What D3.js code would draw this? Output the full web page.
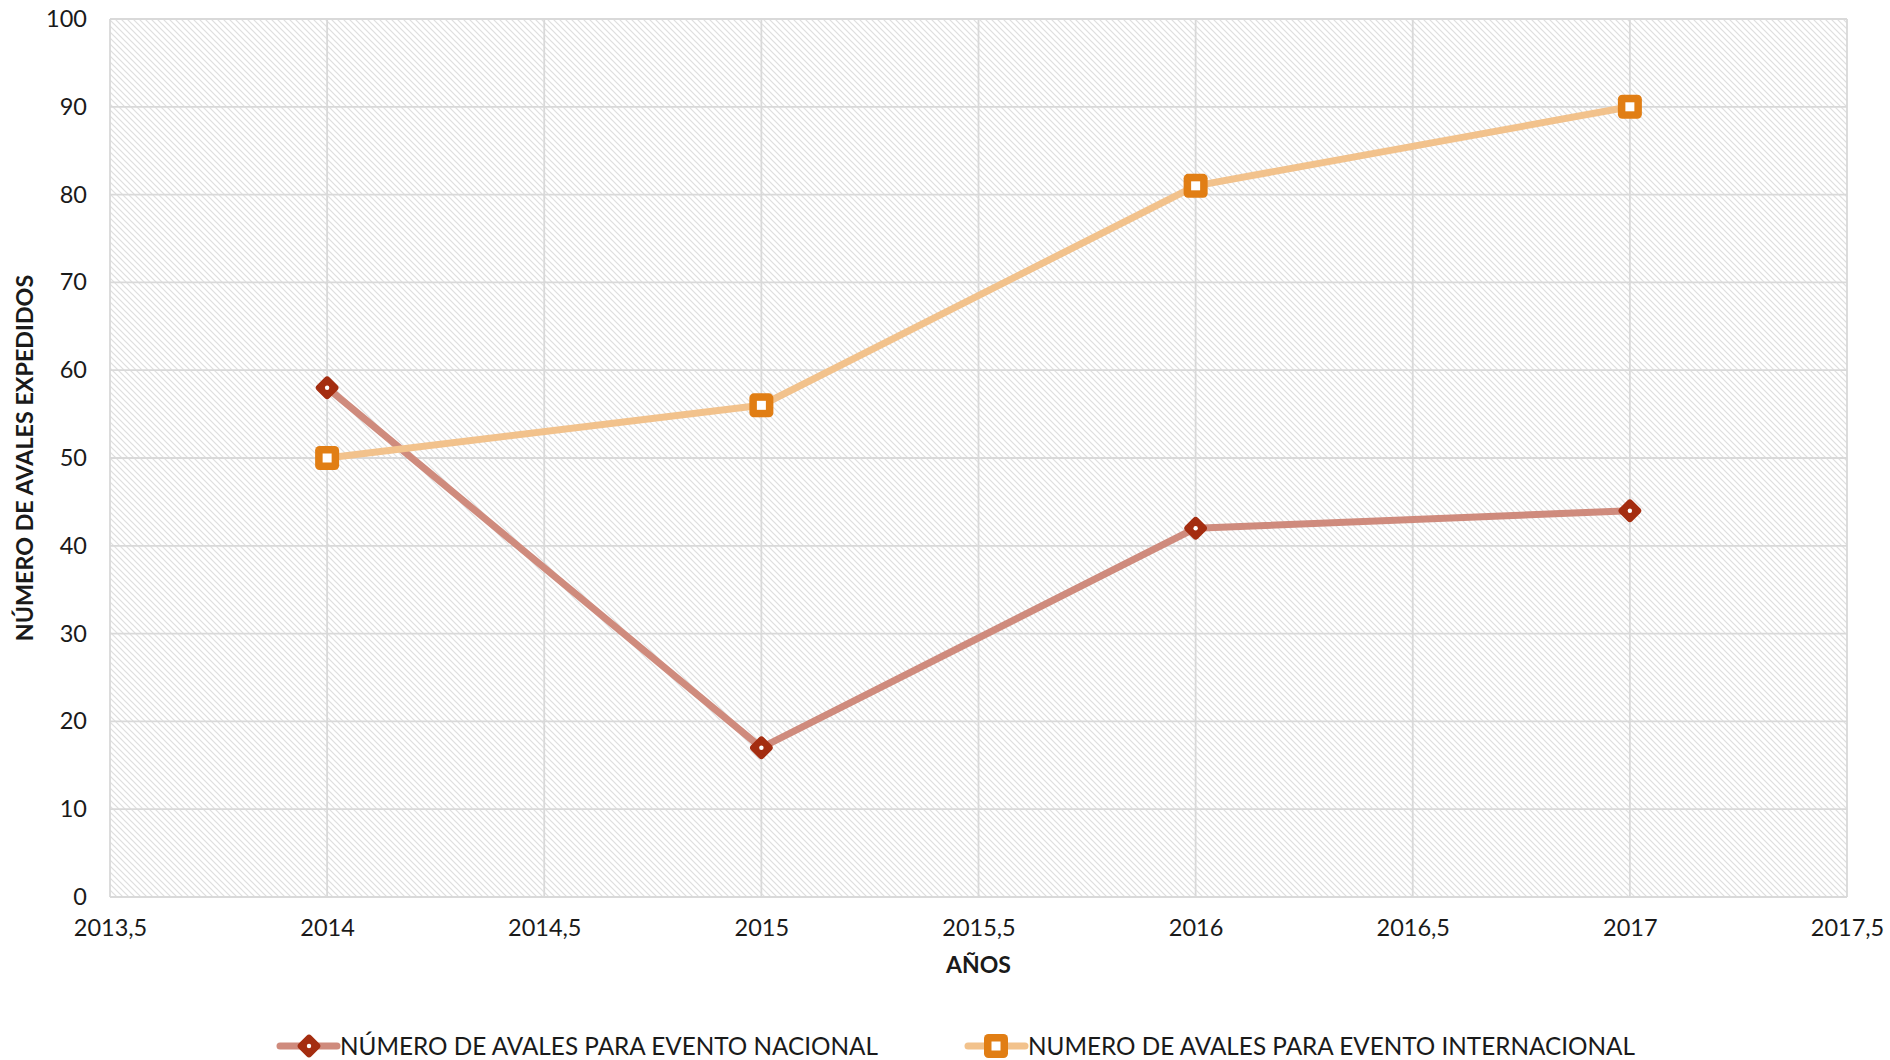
<!DOCTYPE html>
<html>
<head>
<meta charset="utf-8">
<script src="https://cdn.jsdelivr.net/npm/d3@7"></script>
<style>
  body { margin: 0; background: #fff; }
  text { font-family: "Century Gothic", "URW Gothic", "URW Gothic L", Lato, sans-serif; fill: #1a1a1a; }
</style>
</head>
<body>
<div id="chart"></div>
<script>
// data
var years = [2014, 2015, 2016, 2017];
var nacional = [58, 17, 42, 44];
var internacional = [50, 56, 81, 90];
var xTicks = [2013.5, 2014, 2014.5, 2015, 2015.5, 2016, 2016.5, 2017, 2017.5];
var yTicks = [0, 10, 20, 30, 40, 50, 60, 70, 80, 90, 100];
var seriesNames = ["NÚMERO DE AVALES PARA EVENTO NACIONAL", "NUMERO DE AVALES PARA EVENTO INTERNACIONAL"];

var W = 1890, H = 1060;
var m = { top: 19, right: 43, bottom: 163, left: 110 };

var svg = d3.select("#chart").append("svg")
  .attr("width", W).attr("height", H);

var defs = svg.append("defs");
var pat = defs.append("pattern")
  .attr("id", "hatch")
  .attr("patternUnits", "userSpaceOnUse")
  .attr("width", 6).attr("height", 6);
pat.append("rect").attr("width", 6).attr("height", 6).attr("fill", "#fff");
pat.append("path")
  .attr("d", "M-1,-1 L7,7 M-1,5 L1,7 M5,-1 L7,1")
  .attr("stroke", "#dedede")
  .attr("stroke-width", 1.2);

var x = d3.scaleLinear().domain([2013.5, 2017.5]).range([m.left, W - m.right]);
var y = d3.scaleLinear().domain([0, 100]).range([H - m.bottom, m.top]);

var loc = d3.formatLocale({ decimal: ",", thousands: ".", grouping: [3], currency: ["", ""] });
var fmt = function(d) { return Number.isInteger(d) ? String(d) : loc.format(".1f")(d); };

svg.append("rect")
  .attr("x", x(2013.5)).attr("y", y(100))
  .attr("width", x(2017.5) - x(2013.5))
  .attr("height", y(0) - y(100))
  .attr("fill", "url(#hatch)");

// grid
svg.append("g")
  .selectAll("line.h").data(yTicks).enter().append("line")
  .attr("x1", x(2013.5)).attr("x2", x(2017.5))
  .attr("y1", function(d) { return y(d); }).attr("y2", function(d) { return y(d); })
  .attr("stroke", "#d9d9d9").attr("stroke-width", 1.8);
svg.append("g")
  .selectAll("line.v").data(xTicks).enter().append("line")
  .attr("y1", y(0)).attr("y2", y(100))
  .attr("x1", function(d) { return x(d); }).attr("x2", function(d) { return x(d); })
  .attr("stroke", "#d9d9d9").attr("stroke-width", 1.8);

// axes
var yAxis = d3.axisLeft(y).tickValues(yTicks).tickSize(0).tickPadding(23).tickFormat(fmt);
var gy = svg.append("g").attr("transform", "translate(" + m.left + ",0)").call(yAxis);
gy.select(".domain").remove();
gy.selectAll("text").style("font-size", "23.5px").attr("fill", "#1a1a1a");

var xAxis = d3.axisBottom(x).tickValues(xTicks).tickSize(0).tickPadding(22).tickFormat(fmt);
var gx = svg.append("g").attr("transform", "translate(0," + y(0) + ")").call(xAxis);
gx.select(".domain").remove();
gx.selectAll("text").style("font-size", "23.5px").attr("fill", "#1a1a1a");

svg.append("text")
  .attr("x", (x(2013.5) + x(2017.5)) / 2).attr("y", 973)
  .attr("text-anchor", "middle")
  .style("font-size", "23px").style("font-weight", "bold")
  .text("AÑOS");

svg.append("text")
  .attr("transform", "translate(33," + (y(0) + y(100)) / 2 + ") rotate(-90)")
  .attr("text-anchor", "middle")
  .style("font-size", "23.3px").style("font-weight", "bold")
  .text("NÚMERO DE AVALES EXPEDIDOS");

// series
var line = d3.line()
  .x(function(d) { return x(d[0]); })
  .y(function(d) { return y(d[1]); });

var s1 = d3.zip(years, nacional);
var s2 = d3.zip(years, internacional);

var lineCol = ["#cf8b7d", "#f2c28c"];
var markCol = ["#a42d10", "#e17e14"];

svg.append("path").datum(s1).attr("d", line)
  .attr("fill", "none").attr("stroke", lineCol[0]).attr("stroke-width", 7)
  .attr("stroke-linejoin", "round").attr("stroke-linecap", "round");
svg.append("path").datum(s2).attr("d", line)
  .attr("fill", "none").attr("stroke", lineCol[1]).attr("stroke-width", 7)
  .attr("stroke-linejoin", "round").attr("stroke-linecap", "round");

function diamond(g, cx, cy) {
  g.append("rect")
    .attr("x", cx - 9).attr("y", cy - 9).attr("width", 18).attr("height", 18)
    .attr("rx", 3.5).attr("fill", markCol[0])
    .attr("transform", "rotate(45," + cx + "," + cy + ")");
  g.append("circle").attr("cx", cx).attr("cy", cy).attr("r", 2.2).attr("fill", "#fff");
}
function square(g, cx, cy) {
  g.append("rect")
    .attr("x", cx - 12).attr("y", cy - 12).attr("width", 24).attr("height", 24)
    .attr("rx", 4.5).attr("fill", markCol[1]);
  g.append("rect")
    .attr("x", cx - 4.5).attr("y", cy - 4.5).attr("width", 9).attr("height", 9)
    .attr("fill", "#fff");
}

var mg = svg.append("g");
s1.forEach(function(d) { diamond(mg, x(d[0]), y(d[1])); });
s2.forEach(function(d) { square(mg, x(d[0]), y(d[1])); });

// legend
var legY = 1046;
var legX = [280, 968];
var lg = svg.append("g");
[0, 1].forEach(function(i) {
  lg.append("line")
    .attr("x1", legX[i]).attr("x2", legX[i] + 57)
    .attr("y1", legY).attr("y2", legY)
    .attr("stroke", lineCol[i]).attr("stroke-width", 7).attr("stroke-linecap", "round");
  if (i === 0) diamond(lg, legX[i] + 29, legY);
  else square(lg, legX[i] + 28, legY);
  lg.append("text")
    .attr("x", legX[i] + 60).attr("y", legY).attr("dy", "0.36em")
    .style("font-size", "24.3px")
    .text(seriesNames[i]);
});
</script>
</body>
</html>
